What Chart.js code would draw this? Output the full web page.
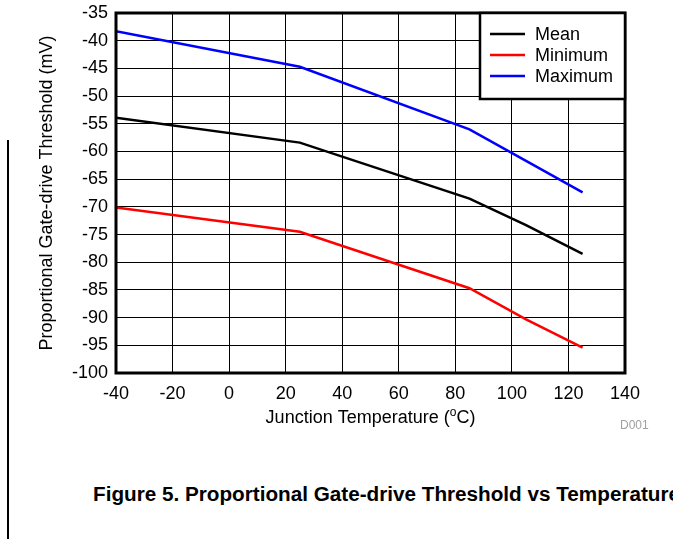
<!DOCTYPE html>
<html>
<head>
<meta charset="utf-8">
<script src="https://cdn.jsdelivr.net/npm/chart.js@4"></script>
<style>
    html, body { margin: 0; padding: 0; background: #fff; overflow: hidden; }
    body { width: 673px; height: 539px; position: relative; font-family: "Liberation Sans", Arial, sans-serif; }
    #wrap { position: absolute; left: 0; top: 0; width: 673px; height: 460px; }
    #edge { position: absolute; left: 7px; top: 140px; width: 2px; height: 399px; background: #000; }
    #caption {
        position: absolute; left: 93px; top: 482px; white-space: nowrap;
        font-weight: bold; font-size: 20.7px; color: #000;
    }
</style>
</head>
<body>
<div id="edge"></div>
<div id="wrap"><canvas id="chart"></canvas></div>
<div id="caption">Figure 5. Proportional Gate-drive Threshold vs Temperature</div>

<script>
// Data
const temps = [-40, 25, 85, 105, 125];
const meanMv = [-53.9, -58.4, -68.5, -73.3, -78.5];
const minMv = [-70.1, -74.5, -84.7, -90.3, -95.4];
const maxMv = [-38.3, -44.7, -56.0, -61.7, -67.4];
const seriesNames = ['Mean', 'Minimum', 'Maximum'];
const xTicks = [-40, -20, 0, 20, 40, 60, 80, 100, 120, 140];
const yTicks = [-35, -40, -45, -50, -55, -60, -65, -70, -75, -80, -85, -90, -95, -100];

const FONT = '"Liberation Sans", Arial, sans-serif';

const toPoints = vals => temps.map((t, i) => ({ x: t, y: vals[i] }));

// Frame + legend box inside the plot, extra texts under the x axis
const decorations = {
    id: 'decorations',
    afterDraw(chart) {
        const { ctx, chartArea: a } = chart;
        ctx.save();

        // thick plot border
        ctx.strokeStyle = '#000';
        ctx.lineWidth = 3;
        ctx.strokeRect(a.left, a.top, a.right - a.left, a.bottom - a.top);

        // legend box (top right)
        const bw = 145, bh = 86;
        const bx = a.right - bw, by = a.top;
        ctx.fillStyle = '#fff';
        ctx.fillRect(bx, by, bw, bh);
        ctx.lineWidth = 2.5;
        ctx.strokeRect(bx, by, bw, bh);
        ctx.font = '18px ' + FONT;
        ctx.textBaseline = 'middle';
        chart.data.datasets.forEach((ds, i) => {
            const ry = by + 21 + i * 21;
            ctx.strokeStyle = ds.borderColor;
            ctx.lineWidth = 2.5;
            ctx.beginPath();
            ctx.moveTo(bx + 10, ry);
            ctx.lineTo(bx + 45, ry);
            ctx.stroke();
            ctx.fillStyle = '#000';
            ctx.textAlign = 'left';
            ctx.fillText(ds.label, bx + 55, ry + 1);
        });

        // x axis title with superscript o
        const cx = (a.left + a.right) / 2;
        const base = 423;
        const p1 = 'Junction Temperature (', sup = 'o', p2 = 'C)';
        ctx.font = '18px ' + FONT;
        const w1 = ctx.measureText(p1).width, w3 = ctx.measureText(p2).width;
        ctx.font = '12px ' + FONT;
        const w2 = ctx.measureText(sup).width;
        let x = cx - (w1 + w2 + w3) / 2;
        ctx.fillStyle = '#000';
        ctx.textAlign = 'left';
        ctx.textBaseline = 'alphabetic';
        ctx.font = '18px ' + FONT;
        ctx.fillText(p1, x, base);
        x += w1;
        ctx.font = '12px ' + FONT;
        ctx.fillText(sup, x, base - 7);
        x += w2;
        ctx.font = '18px ' + FONT;
        ctx.fillText(p2, x, base);

        // figure id
        ctx.font = '12px ' + FONT;
        ctx.fillStyle = '#a0a0a0';
        ctx.fillText('D001', 620, 429);
        ctx.restore();
    }
};

new Chart(document.getElementById('chart'), {
    type: 'line',
    data: {
        datasets: [
            { label: seriesNames[0], data: toPoints(meanMv), borderColor: '#000000' },
            { label: seriesNames[1], data: toPoints(minMv), borderColor: '#ff0000' },
            { label: seriesNames[2], data: toPoints(maxMv), borderColor: '#0000ff' }
        ]
    },
    options: {
        responsive: true,
        maintainAspectRatio: false,
        animation: false,
        layout: { padding: { left: 0, right: 48, top: 13, bottom: 0 } },
        elements: {
            line: { borderWidth: 2.5, tension: 0 },
            point: { radius: 0 }
        },
        plugins: {
            legend: { display: false },
            tooltip: { enabled: false }
        },
        scales: {
            x: {
                type: 'linear',
                min: -40,
                max: 140,
                afterBuildTicks: s => { s.ticks = xTicks.map(v => ({ value: v })); },
                afterFit: s => { s.height = 87; s.paddingLeft = 0; s.paddingRight = 0; },
                grid: { color: '#000', lineWidth: 1, drawTicks: false },
                border: { display: false },
                ticks: {
                    color: '#000',
                    padding: 10,
                    maxRotation: 0,
                    font: { family: FONT, size: 18 }
                }
            },
            y: {
                min: -100,
                max: -35,
                afterBuildTicks: s => { s.ticks = yTicks.map(v => ({ value: v })); },
                afterFit: s => { s.width = 116; s.paddingTop = 0; s.paddingBottom = 0; },
                grid: { color: '#000', lineWidth: 1, drawTicks: false },
                border: { display: false },
                ticks: {
                    color: '#000',
                    padding: 8,
                    font: { family: FONT, size: 18 }
                },
                title: {
                    display: true,
                    text: 'Proportional Gate-drive Threshold (mV)',
                    color: '#000',
                    padding: { top: 36, bottom: 0 },
                    font: { family: FONT, size: 18 }
                }
            }
        }
    },
    plugins: [decorations]
});
</script>
</body>
</html>
